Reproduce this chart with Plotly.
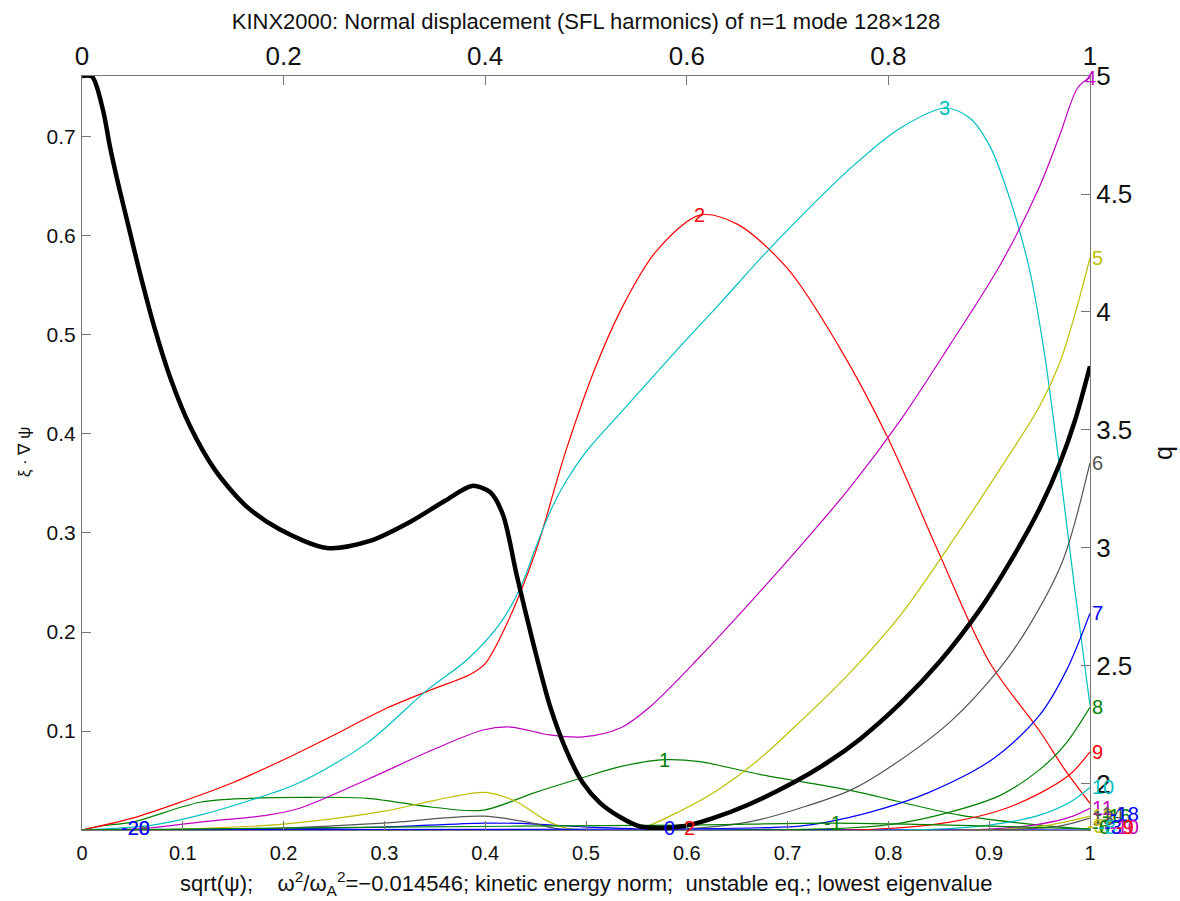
import plotly.graph_objects as go

# ---------------- safety factor q(sqrt(psi)) ----------------
q_s = [0.0, 0.0099, 0.0208, 0.0278, 0.0357, 0.0446, 0.0575, 0.0724, 0.0873, 0.1071,
       0.1319, 0.1617, 0.1964, 0.2431, 0.2857, 0.3254, 0.3601, 0.3869, 0.4048, 0.4177,
       0.4315, 0.4474, 0.4643, 0.4812, 0.4970, 0.5139, 0.5337, 0.5536, 0.5734, 0.5900,
       0.6062, 0.6260, 0.6597, 0.7054, 0.7391, 0.7718, 0.8115, 0.8512, 0.8909, 0.9206,
       0.9504, 0.9702, 0.9851, 1.0]
q_val = [5.0, 4.998, 4.856, 4.699, 4.547, 4.390, 4.164, 3.926, 3.725, 3.517,
         3.331, 3.182, 3.078, 3.000, 3.030, 3.110, 3.200, 3.263, 3.237, 3.140,
         2.880, 2.600, 2.330, 2.135, 2.004, 1.920, 1.860, 1.820, 1.814, 1.818,
         1.830, 1.855, 1.910, 2.005, 2.090, 2.190, 2.340, 2.520, 2.740, 2.940,
         3.170, 3.360, 3.540, 3.770]

# ---------------- SFL harmonics of xi . grad psi ----------------
m0_s = [0, 0.2, 0.3, 0.4, 0.45, 0.5, 0.58, 0.7, 1.0]
m0_v = [0, 0.001, 0.003, 0.007, 0.006, 0.003, 0.001, 0.0005, 0.0]

m1_s = [0, 0.018, 0.05, 0.117, 0.167, 0.216, 0.283, 0.348, 0.398, 0.447, 0.497, 0.534,
        0.578, 0.613, 0.673, 0.762, 0.871, 0.96, 1.0]
m1_v = [0, 0.004, 0.008, 0.028, 0.032, 0.033, 0.032, 0.023, 0.020, 0.037, 0.053, 0.064,
        0.071, 0.069, 0.056, 0.040, 0.015, 0.004, 0.001]

m2_s = [0, 0.05, 0.1, 0.15, 0.2, 0.25, 0.3, 0.35, 0.385, 0.4, 0.42, 0.45, 0.48, 0.51,
        0.54, 0.57, 0.613, 0.65, 0.7, 0.75, 0.8, 0.85, 0.9, 0.95, 0.975, 1.0]
m2_v = [0, 0.012, 0.029, 0.048, 0.071, 0.096, 0.122, 0.143, 0.157, 0.168, 0.205, 0.281,
        0.383, 0.469, 0.536, 0.585, 0.621, 0.612, 0.567, 0.49, 0.395, 0.28, 0.17, 0.10,
        0.061, 0.027]

m3_s = [0, 0.07, 0.117, 0.167, 0.216, 0.283, 0.342, 0.382, 0.415, 0.435, 0.45, 0.465,
        0.48, 0.5, 0.534, 0.593, 0.633, 0.683, 0.762, 0.812, 0.856, 0.881, 0.901, 0.921,
        0.94, 0.955, 0.97, 0.985, 1.0]
m3_v = [0, 0.005, 0.015, 0.03, 0.048, 0.088, 0.141, 0.172, 0.209, 0.245, 0.285, 0.323,
        0.352, 0.382, 0.421, 0.488, 0.532, 0.588, 0.668, 0.709, 0.729, 0.719, 0.690,
        0.636, 0.566, 0.480, 0.365, 0.242, 0.126]

m4_s = [0, 0.067, 0.117, 0.184, 0.216, 0.283, 0.348, 0.398, 0.425, 0.464, 0.497, 0.534,
        0.563, 0.613, 0.663, 0.712, 0.762, 0.812, 0.861, 0.911, 0.95, 0.97, 0.988, 1.0]
m4_v = [0, 0.002, 0.008, 0.015, 0.022, 0.051, 0.081, 0.101, 0.104, 0.096, 0.094, 0.103,
        0.124, 0.175, 0.23, 0.286, 0.346, 0.414, 0.49, 0.571, 0.65, 0.702, 0.750, 0.760]

m5_s = [0, 0.1, 0.2, 0.3, 0.35, 0.4, 0.43, 0.46, 0.48, 0.52, 0.555, 0.595, 0.63, 0.67,
        0.712, 0.762, 0.812, 0.861, 0.911, 0.95, 0.97, 0.987, 1.0]
m5_v = [0, 0.001, 0.006, 0.019, 0.03, 0.038, 0.029, 0.01, 0.002, 0.0, 0.002, 0.02, 0.04,
        0.07, 0.109, 0.159, 0.217, 0.288, 0.365, 0.428, 0.472, 0.528, 0.578]

m6_s = [0, 0.167, 0.299, 0.398, 0.447, 0.474, 0.593, 0.633, 0.67, 0.712, 0.762, 0.805,
        0.861, 0.911, 0.94, 0.973, 1.0]
m6_v = [0, 0.001, 0.007, 0.014, 0.007, 0.001, 0.001, 0.004, 0.010, 0.022, 0.040, 0.066,
        0.109, 0.164, 0.207, 0.272, 0.371]

m7_s = [0, 0.6, 0.66, 0.712, 0.739, 0.782, 0.838, 0.904, 0.95, 0.977, 1.0]
m7_v = [0, 0.001, 0.002, 0.004, 0.008, 0.018, 0.037, 0.072, 0.116, 0.162, 0.219]

m8_s = [0, 0.76, 0.812, 0.861, 0.911, 0.95, 0.975, 1.0]
m8_v = [0, 0.002, 0.007, 0.018, 0.035, 0.061, 0.086, 0.124]

m9_s = [0, 0.79, 0.861, 0.911, 0.95, 0.98, 1.0]
m9_v = [0, 0.001, 0.008, 0.020, 0.037, 0.056, 0.079]

m10_s = [0, 0.85, 0.9, 0.95, 0.98, 1.0]
m10_v = [0, 0.001, 0.005, 0.015, 0.028, 0.043]

m11_s = [0, 0.9, 0.95, 0.98, 1.0]
m11_v = [0, 0.001, 0.006, 0.013, 0.022]

m12_s = [0, 0.92, 0.96, 1.0]
m12_v = [0, 0.001, 0.005, 0.014]

m13_s = [0, 0.93, 0.97, 1.0]
m13_v = [0, 0.001, 0.004, 0.012]

mm1_s = [0, 0.3, 0.6, 0.745, 0.9, 1.0]
mm1_v = [0, 0.003, 0.005, 0.007, 0.004, 0.001]

x_ticks = [0, 0.1, 0.2, 0.3, 0.4, 0.5, 0.6, 0.7, 0.8, 0.9, 1.0]
x_tick_text = ["0", "0.1", "0.2", "0.3", "0.4", "0.5", "0.6", "0.7", "0.8", "0.9", "1"]
top_ticks = [0, 0.2, 0.4, 0.6, 0.8, 1.0]
top_tick_text = ["0", "0.2", "0.4", "0.6", "0.8", "1"]
y_ticks = [0.1, 0.2, 0.3, 0.4, 0.5, 0.6, 0.7]
y_tick_text = ["0.1", "0.2", "0.3", "0.4", "0.5", "0.6", "0.7"]
q_ticks = [2, 2.5, 3, 3.5, 4, 4.5, 5]
q_tick_text = ["2", "2.5", "3", "3.5", "4", "4.5", "5"]

X_RANGE = [0, 1]
Y_RANGE = [0, 0.7616]
Q_RANGE = [1.805, 5.0]

# MATLAB-style colour cycle
BLUE, GREEN, RED, CYAN = "#0000ff", "#008000", "#ff0000", "#00bfbf"
MAGENTA, YELLOW, GRAY = "#bf00bf", "#bfbf00", "#555555"
CYCLE = [BLUE, GREEN, RED, CYAN, MAGENTA, YELLOW, GRAY]

harmonics = [
    (0, m0_s, m0_v), (1, m1_s, m1_v), (2, m2_s, m2_v), (3, m3_s, m3_v),
    (4, m4_s, m4_v), (5, m5_s, m5_v), (6, m6_s, m6_v), (7, m7_s, m7_v),
    (8, m8_s, m8_v), (9, m9_s, m9_v), (10, m10_s, m10_v), (11, m11_s, m11_v),
    (12, m12_s, m12_v), (13, m13_s, m13_v), (-1, mm1_s, mm1_v),
]

FONT = "Liberation Sans, Arial, Helvetica, sans-serif"
LABEL_SIZE = 20


def to_paper(s, v):
    """Map (sqrt(psi), xi.grad psi) onto paper coordinates of the plot area."""
    px = (s - X_RANGE[0]) / (X_RANGE[1] - X_RANGE[0])
    py = (v - Y_RANGE[0]) / (Y_RANGE[1] - Y_RANGE[0])
    return px, py


def label(text, color, s, v, anchor):
    px, py = to_paper(s, v)
    return dict(x=px, y=py, xref="paper", yref="paper", text=text, showarrow=False,
                xanchor=anchor, yanchor="middle",
                font=dict(size=LABEL_SIZE, color=color, family=FONT))


fig = go.Figure()
annotations = []

for m, s, v in harmonics:
    color = CYCLE[m % 7] if m >= 0 else GREEN
    fig.add_trace(go.Scatter(
        x=s, y=v, mode="lines", xaxis="x", yaxis="y",
        line=dict(color=color, width=1.2, shape="spline", smoothing=0.9),
        hoverinfo="skip", showlegend=False,
    ))
    if m == 0:
        continue
    # harmonic number written at the maximum of each curve
    k = max(range(len(v)), key=lambda i: v[i])
    at_edge = s[k] >= 0.99 and v[k] < 0.7
    annotations.append(label(str(m), color, s[k], v[k], "left" if at_edge else "center"))

# labels of the small harmonics crowding the axis
small_labels = [
    ("0", BLUE, 0.583, 0.002, "center"),
    ("2", RED, 0.603, 0.002, "center"),
    ("-28", GRAY, 0.037, 0.002, "left"),
    ("-20", BLUE, 0.037, 0.002, "left"),
    ("-14", GRAY, 1.003, 0.016, "left"),
    ("-16", GREEN, 1.010, 0.014, "left"),
    ("-18", BLUE, 1.018, 0.016, "left"),
    ("-5", YELLOW, 0.995, 0.004, "left"),
    ("-6", GREEN, 1.000, 0.003, "left"),
    ("-8", CYAN, 1.006, 0.003, "left"),
    ("-3", BLUE, 1.012, 0.003, "left"),
    ("-10", MAGENTA, 1.018, 0.003, "left"),
    ("-9", RED, 1.024, 0.003, "left"),
]
for text, color, sx, vy, anchor in small_labels:
    annotations.append(label(text, color, sx, vy, anchor))

# safety factor profile on the top/right axes
fig.add_trace(go.Scatter(
    x=q_s, y=q_val, mode="lines", xaxis="x2", yaxis="y2",
    line=dict(color="black", width=4.5, shape="spline", smoothing=0.8),
    hoverinfo="skip", showlegend=False,
))

# axis titles
annotations += [
    dict(x=0.5, y=0, xref="paper", yref="paper", yanchor="middle", yshift=-53,
         showarrow=False,
         text="sqrt(ψ);\u00a0\u00a0\u00a0\u00a0ω<sup>2</sup>/ω<sub>A</sub><sup>2</sup>=−0.014546; "
              "kinetic energy norm;\u00a0\u00a0unstable eq.; lowest eigenvalue",
         font=dict(size=22, color="#111", family=FONT)),
    dict(x=0, y=0.501, xref="paper", yref="paper", xanchor="center", yanchor="middle",
         xshift=-58, textangle=-90, showarrow=False, text="ξ · ∇ ψ",
         font=dict(size=17, color="#111", family=FONT)),
    dict(x=1, y=0.5, xref="paper", yref="paper", xanchor="center", yanchor="middle",
         xshift=73, textangle=-90, showarrow=False, text="q",
         font=dict(size=25, color="#111", family=FONT)),
]

AX = "#777777"
common = dict(showgrid=False, zeroline=False, showline=True, linecolor=AX, linewidth=1,
              ticks="inside", ticklen=9, tickcolor=AX, tickwidth=1)

fig.update_layout(
    width=1180, height=901,
    margin=dict(l=82, r=90, t=76, b=71),
    paper_bgcolor="white", plot_bgcolor="white",
    showlegend=False,
    font=dict(family=FONT, color="#111"),
    title=dict(text="KINX2000: Normal displacement (SFL harmonics) of n=1 mode 128×128",
               x=0.5, xref="paper", xanchor="center", y=1 - 21 / 901, yref="container",
               yanchor="middle", font=dict(size=22, color="#111", family=FONT)),
    xaxis=dict(range=X_RANGE, tickvals=x_ticks, ticktext=x_tick_text,
               tickfont=dict(size=20), ticklabelstandoff=5, **common),
    xaxis2=dict(range=X_RANGE, overlaying="x", side="top", anchor="y",
                tickvals=top_ticks, ticktext=top_tick_text,
                tickfont=dict(size=26), **common),
    yaxis=dict(range=Y_RANGE, tickvals=y_ticks, ticktext=y_tick_text,
               tickfont=dict(size=21), ticklabelstandoff=1, **common),
    yaxis2=dict(range=Q_RANGE, overlaying="y", side="right", anchor="x",
                tickvals=q_ticks, ticktext=q_tick_text,
                tickfont=dict(size=26), **common),
    annotations=annotations,
)

fig.write_html("out.html")
